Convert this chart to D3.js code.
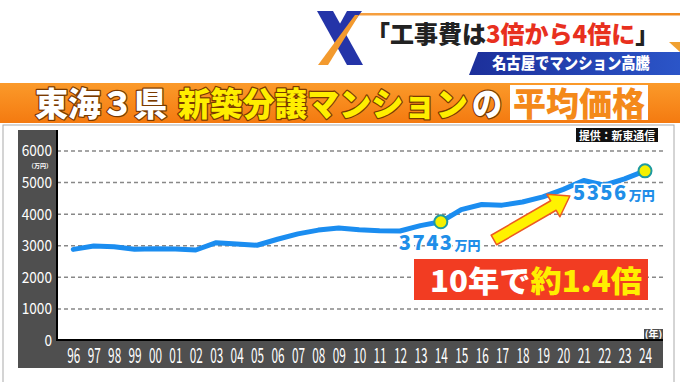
<!DOCTYPE html>
<html>
<head>
<meta charset="utf-8">
<script src="https://cdn.jsdelivr.net/npm/d3@7"></script>
<style>
  body { margin: 0; background: #fff; }
  svg { display: block; }
  text { font-family: "Noto Sans CJK JP", "Noto Sans", sans-serif; }
</style>
</head>
<body>
<svg id="chart" width="680" height="382"></svg>
<script>
// ---- data ----
const years = ["96","97","98","99","00","01","02","03","04","05","06","07","08","09","10","11","12","13","14","15","16","17","18","19","20","21","22","23","24"];
const prices = [2870,2975,2950,2870,2890,2880,2850,3080,3040,3000,3190,3360,3480,3545,3490,3460,3450,3620,3743,4130,4290,4270,4370,4530,4770,5050,4900,5100,5356];
const yTicks = [0,1000,2000,3000,4000,5000,6000];
const highlights = [{year:"14", value:3743, label:"3743"}, {year:"24", value:5356, label:"5356"}];

const svg = d3.select("#chart");

// ---- header ----
const defs = svg.append("defs");
const og = defs.append("linearGradient").attr("id","og").attr("x1",0).attr("x2",0).attr("y1",0).attr("y2",1);
og.append("stop").attr("offset","0").attr("stop-color","#fb9a2a");
og.append("stop").attr("offset","1").attr("stop-color","#f47a10");
const bg = defs.append("linearGradient").attr("id","bg").attr("x1",0).attr("x2",1);
bg.append("stop").attr("offset","0").attr("stop-color","#1c2f9a");
bg.append("stop").attr("offset","1").attr("stop-color","#2b55c8");
const lg = defs.append("linearGradient").attr("id","lg").attr("x1",0).attr("x2",1);
lg.append("stop").attr("offset","0").attr("stop-color","#f6a040");
lg.append("stop").attr("offset","1").attr("stop-color","#f08a20");

// top orange line
svg.append("rect").attr("x",358).attr("y",13).attr("width",322).attr("height",2.5).attr("fill","url(#lg)");
svg.append("path").attr("d","M669,42 L680,42 L680,52 Z").attr("fill","#f0a030");

// X logo
svg.append("path").attr("d","M317,11 L333,11 L363,65 L347,65 Z").attr("fill","#2434a8");
svg.append("path").attr("d","M347,11 L362,11 L343,37 L336,31 Z").attr("fill","#2434a8");
svg.append("path").attr("d","M355,15 L359,15 L328,65 L318,65 Z").attr("fill","#f39a2e");

// headline
const hl = svg.append("text").attr("x",366).attr("y",43).attr("font-size",24).attr("font-weight",900);
hl.append("tspan").attr("fill","#222").text("「工事費は");
hl.append("tspan").attr("fill","#e8301e").text("3倍から4倍に");
hl.append("tspan").attr("fill","#222").text("」");

// blue banner
svg.append("path").attr("d","M478,52 L680,52 L680,75 L469,75 Z").attr("fill","url(#bg)");
svg.append("text").attr("x",492).attr("y",69).attr("font-size",16).attr("font-weight",900)
  .attr("fill","#fff").attr("textLength",158).attr("lengthAdjust","spacingAndGlyphs").text("名古屋でマンション高騰");

// orange title band
svg.append("rect").attr("x",0).attr("y",83).attr("width",680).attr("height",40).attr("fill","url(#og)");
const titleStyle = s => s.attr("font-size",33).attr("font-weight",900)
  .attr("stroke","#7a3a00").attr("stroke-width",2.5).attr("paint-order","stroke").attr("stroke-linejoin","round");
svg.append("text").attr("x",35).attr("y",116).attr("fill","#fff").attr("textLength",132)
  .attr("lengthAdjust","spacingAndGlyphs").call(titleStyle).text("東海３県");
svg.append("text").attr("x",178).attr("y",116).attr("fill","#ffee00").attr("textLength",290)
  .attr("lengthAdjust","spacingAndGlyphs").call(titleStyle).text("新築分譲マンション");
svg.append("text").attr("x",472).attr("y",116).attr("fill","#fff").attr("textLength",30)
  .attr("lengthAdjust","spacingAndGlyphs").call(titleStyle).text("の");
svg.append("rect").attr("x",510).attr("y",85).attr("width",138).attr("height",35).attr("fill","#fff");
svg.append("text").attr("x",513).attr("y",116).attr("fill","#f4891a").attr("font-size",33).attr("font-weight",900)
  .attr("textLength",132).attr("lengthAdjust","spacingAndGlyphs").text("平均価格");

// chart frame
svg.append("rect").attr("x",3).attr("y",125).attr("width",671).attr("height",262).attr("fill","#fff").attr("stroke","#aaa").attr("stroke-width",1);

// source tag
svg.append("rect").attr("x",576).attr("y",128).attr("width",82).attr("height",14).attr("fill","#111");
svg.append("text").attr("x",579).attr("y",140).attr("font-size",11.5).attr("font-weight",700).attr("fill","#fff")
  .attr("textLength",76).attr("lengthAdjust","spacingAndGlyphs").text("提供：新東通信");

// ---- scales ----
const left = 57, right = 663, bottom = 340;
const x = d3.scalePoint().domain(years).range([73.3, 645]);
const xi = d3.scaleLinear().domain([0, years.length - 1]).range([73.3, 645]);
const y = d3.scaleLinear().domain([0, 6000]).range([bottom, 150.5]);

// gray panel
const gray = "#4f4f4f";
svg.append("rect").attr("x",18).attr("y",130).attr("width",left-18).attr("height",368-130).attr("fill",gray);
svg.append("rect").attr("x",18).attr("y",bottom).attr("width",right-18).attr("height",28).attr("fill",gray);
svg.append("rect").attr("x",644).attr("y",329).attr("width",right-644).attr("height",12).attr("fill",gray);

// grid + y labels
const gy = svg.append("g").attr("transform",`translate(${left},0)`)
  .call(d3.axisLeft(y).tickValues(yTicks).tickSize(-(665-left)).tickPadding(0).tickFormat(d3.format("d")));
gy.select(".domain").remove();
gy.selectAll(".tick line").attr("stroke","#888").attr("stroke-width",1.5).attr("stroke-dasharray","4,3")
  .filter(d => d === 0).remove();
gy.selectAll(".tick text").attr("fill","#fff").attr("font-size",15.5).attr("font-family","'Liberation Sans', Arial, sans-serif")
  .attr("x",0).attr("dy","0.35em").attr("transform","translate(-5,0) scale(0.88,1)");
svg.append("text").attr("x",52).attr("y",167.5).attr("text-anchor","end").attr("font-size",6).attr("font-weight",700)
  .attr("fill","#fff").text("（万円）");

// x axis labels
const gx = svg.append("g").attr("transform",`translate(0,${bottom})`)
  .call(d3.axisBottom(x).tickSize(0).tickPadding(8));
gx.select(".domain").remove();
gx.selectAll(".tick text").attr("fill","#fff").attr("font-size",21).attr("font-family","'Liberation Sans', Arial, sans-serif")
  .attr("x",0).attr("transform","scale(0.56,1)");
svg.append("text").attr("x",653.5).attr("y",338).attr("text-anchor","middle").attr("font-size",10).attr("font-weight",700)
  .attr("fill","#fff").text("(年)");

// axis lines
svg.append("line").attr("x1",left).attr("x2",left).attr("y1",130).attr("y2",bottom+1).attr("stroke","#000").attr("stroke-width",2);
svg.append("line").attr("x1",left).attr("x2",right).attr("y1",bottom).attr("y2",bottom).attr("stroke","#000").attr("stroke-width",2);

// ---- line ----
const line = d3.line().x((d,i) => x(years[i])).y(d => y(d)).curve(d3.curveLinear);
svg.append("path").datum(prices).attr("d",line).attr("fill","none").attr("stroke","#1b8df0")
  .attr("stroke-width",5).attr("stroke-linejoin","round").attr("stroke-linecap","round");

// ---- arrow annotation (data-anchored) ----
const a0 = [xi(20.6), y(3166)], a1 = [xi(24.32), y(4560)];
const dx = a1[0]-a0[0], dy = a1[1]-a0[1], len = Math.hypot(dx,dy);
const ux = dx/len, uy = dy/len, px = -uy, py = ux;
const sw = 5.5, hw = 13, hl2 = 19;
const b = [a1[0]-ux*hl2, a1[1]-uy*hl2];
const pts = [
  [a0[0]+px*sw, a0[1]+py*sw], [b[0]+px*sw, b[1]+py*sw], [b[0]+px*hw, b[1]+py*hw], a1,
  [b[0]-px*hw, b[1]-py*hw], [b[0]-px*sw, b[1]-py*sw], [a0[0]-px*sw, a0[1]-py*sw]
];
svg.append("path").attr("d","M"+pts.map(p=>p.join(",")).join("L")+"Z")
  .attr("fill","#fff200").attr("stroke","#ec5a22").attr("stroke-width",1.5).attr("stroke-linejoin","round");

// ---- highlight labels ----
const lab = svg.selectAll(".hlab").data(highlights).enter().append("text")
  .attr("class","hlab")
  .attr("x", d => d.year === "14" ? x(d.year) - 42 : x(d.year) - 72)
  .attr("y", d => y(d.value) + (d.year === "14" ? 28 : 29))
  .attr("fill","#1f8ee8").attr("stroke","#fff").attr("stroke-width",3).attr("paint-order","stroke")
  .attr("stroke-linejoin","round").attr("font-weight",900);
lab.append("tspan").attr("font-size",20).attr("letter-spacing",1.5).text(d => d.label);
lab.append("tspan").attr("font-size",13).attr("dx",1).text("万円");

// markers
svg.selectAll(".mk").data(highlights).enter().append("circle")
  .attr("cx", d => x(d.year)).attr("cy", d => y(d.value)).attr("r",6.5)
  .attr("fill","#f4f000").attr("stroke","#1d9aa0").attr("stroke-width",2);

// ---- red callout ----
svg.append("rect").attr("x",414).attr("y",259).attr("width",234).attr("height",41).attr("fill","#f23c22");
const co = svg.append("text").attr("x",430).attr("y",292).attr("font-size",30).attr("font-weight",900)
  .attr("textLength",212).attr("lengthAdjust","spacingAndGlyphs");
co.append("tspan").attr("fill","#fff").text("10年で");
co.append("tspan").attr("fill","#ffee00").text("約1.4倍");
</script>
</body>
</html>
